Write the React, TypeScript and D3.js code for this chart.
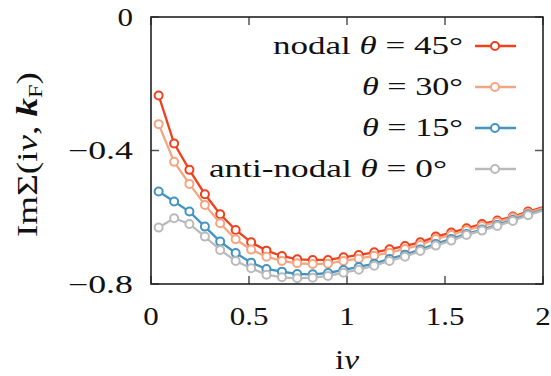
import React from "react";
import * as d3 from "d3";

const nuValues = [0.039, 0.118, 0.196, 0.275, 0.353, 0.432, 0.511, 0.589, 0.668, 0.746, 0.825, 0.903, 0.982, 1.060, 1.139, 1.217, 1.296, 1.374, 1.453, 1.532, 1.610, 1.689, 1.767, 1.846, 1.924, 2.003];

const nodal45 = [-0.235, -0.379, -0.458, -0.531, -0.591, -0.638, -0.675, -0.700, -0.716, -0.726, -0.728, -0.728, -0.720, -0.713, -0.705, -0.696, -0.686, -0.675, -0.658, -0.646, -0.633, -0.620, -0.610, -0.598, -0.583, -0.569];
const theta30 = [-0.321, -0.434, -0.500, -0.563, -0.618, -0.666, -0.697, -0.718, -0.731, -0.738, -0.740, -0.739, -0.731, -0.724, -0.715, -0.706, -0.695, -0.683, -0.665, -0.653, -0.639, -0.626, -0.614, -0.601, -0.587, -0.572];
const theta15 = [-0.523, -0.553, -0.583, -0.628, -0.673, -0.707, -0.736, -0.755, -0.763, -0.770, -0.771, -0.767, -0.758, -0.749, -0.739, -0.725, -0.712, -0.697, -0.680, -0.665, -0.650, -0.637, -0.623, -0.608, -0.592, -0.577];
const antinodal0 = [-0.631, -0.603, -0.620, -0.658, -0.698, -0.731, -0.753, -0.772, -0.780, -0.783, -0.781, -0.776, -0.766, -0.757, -0.745, -0.731, -0.718, -0.701, -0.685, -0.670, -0.653, -0.640, -0.626, -0.611, -0.594, -0.579];

const xTicks = [0, 0.5, 1, 1.5, 2];
const xTickLabels = ["0", "0.5", "1", "1.5", "2"];
const yTicks = [0, -0.4, -0.8];
const yTickLabels = ["0", "\u22120.4", "\u22120.8"];

const seriesNames = ["nodal", "", "", "anti-nodal"];
const seriesAngles = ["45°", "30°", "15°", "0°"];
const seriesColors = ["#f0401c", "#f4a582", "#4393c3", "#bababa"];
const seriesData = [nodal45, theta30, theta15, antinodal0];

const W = 551, H = 376;
const L = 151, R = 543, T = 17, B = 284;
const FONT = "'Liberation Serif', 'Times New Roman', serif";
const SX = 1.24;

export default function App() {
  const x = d3.scaleLinear().domain([0, 2]).range([L, R]);
  const y = d3.scaleLinear().domain([-0.8, 0]).range([B, T]);
  const line = d3.line<number>().x((_, i) => x(nuValues[i])).y((d) => y(d));
  const tickLen = 8;
  const legendRows = [54, 95, 136, 177];
  const legendTextRight = [463, 463, 463, 447];
  const legendTextWidth = [190, 101, 101, 238];

  return (
    <svg width={W} height={H} style={{ position: "absolute", left: 0, top: 0, background: "#fff" }} fontFamily={FONT}>
      <defs>
        <clipPath id="plotclip">
          <rect x={L} y={T} width={R - L} height={B - T} />
        </clipPath>
      </defs>
      <rect x={0} y={0} width={W} height={H} fill="#fff" />
      <g stroke="#555" strokeWidth={1.5}>
        {xTicks.map((t, i) => (
          <g key={"xt" + i}>
            <line x1={x(t)} x2={x(t)} y1={B} y2={B - tickLen} />
            <line x1={x(t)} x2={x(t)} y1={T} y2={T + tickLen} />
          </g>
        ))}
        {yTicks.map((t, i) => (
          <g key={"yt" + i}>
            <line x1={L} x2={L + tickLen} y1={y(t)} y2={y(t)} />
            <line x1={R} x2={R - tickLen} y1={y(t)} y2={y(t)} />
          </g>
        ))}
      </g>
      <g clipPath="url(#plotclip)">
        {seriesData.map((s, k) => (
          <g key={"s" + k}>
            <path d={line(s) || ""} fill="none" stroke={seriesColors[k]} strokeWidth={2.3} />
            {s.map((v, i) =>
              nuValues[i] <= 2 ? (
                <circle key={i} cx={x(nuValues[i])} cy={y(v)} r={4} fill="#fff" stroke={seriesColors[k]} strokeWidth={2} />
              ) : null
            )}
          </g>
        ))}
      </g>
      <rect x={L} y={T} width={R - L} height={B - T} fill="none" stroke="#222" strokeWidth={1.6} />
      <g fontSize={25} fill="#111">
        {xTicks.map((t, i) => (
          <text key={"xl" + i} transform={`translate(${x(t)},325) scale(${SX},1)`} textAnchor="middle">
            {xTickLabels[i]}
          </text>
        ))}
        {yTicks.map((t, i) =>
          i === 0 ? (
            <text key={"yl" + i} transform={`translate(133,${y(t) + 8.5}) scale(${SX},1)`} textAnchor="end">
              {yTickLabels[i]}
            </text>
          ) : (
            <text key={"yl" + i} x={68} y={y(t) + 8.5} textLength={65} lengthAdjust="spacingAndGlyphs">
              {yTickLabels[i]}
            </text>
          )
        )}
      </g>
      <text transform={`translate(347,369) scale(${SX},1)`} textAnchor="middle" fontSize={27} fill="#111">
        i<tspan fontStyle="italic">ν</tspan>
      </text>
      <text transform="translate(37,237) rotate(-90)" x={0} y={0} fontSize={29} fill="#111" textLength={165} lengthAdjust="spacingAndGlyphs">
        ImΣ(i<tspan fontStyle="italic">ν</tspan>, <tspan fontStyle="italic" fontWeight="bold">k</tspan>
        <tspan fontSize={19} dy={5}>F</tspan>
        <tspan dy={-5}>)</tspan>
      </text>
      {seriesData.map((_, k) => (
        <g key={"lg" + k}>
          <text x={legendTextRight[k] - legendTextWidth[k]} y={legendRows[k]} fontSize={26} fill="#111" textLength={legendTextWidth[k]} lengthAdjust="spacingAndGlyphs">
            {seriesNames[k] ? seriesNames[k] + " " : ""}
            <tspan fontStyle="italic">θ</tspan> = {seriesAngles[k]}
          </text>
          <line x1={475} x2={516} y1={legendRows[k] - 8} y2={legendRows[k] - 8} stroke={seriesColors[k]} strokeWidth={2.3} />
          <circle cx={495} cy={legendRows[k] - 8} r={4} fill="#fff" stroke={seriesColors[k]} strokeWidth={2} />
        </g>
      ))}
    </svg>
  );
}
